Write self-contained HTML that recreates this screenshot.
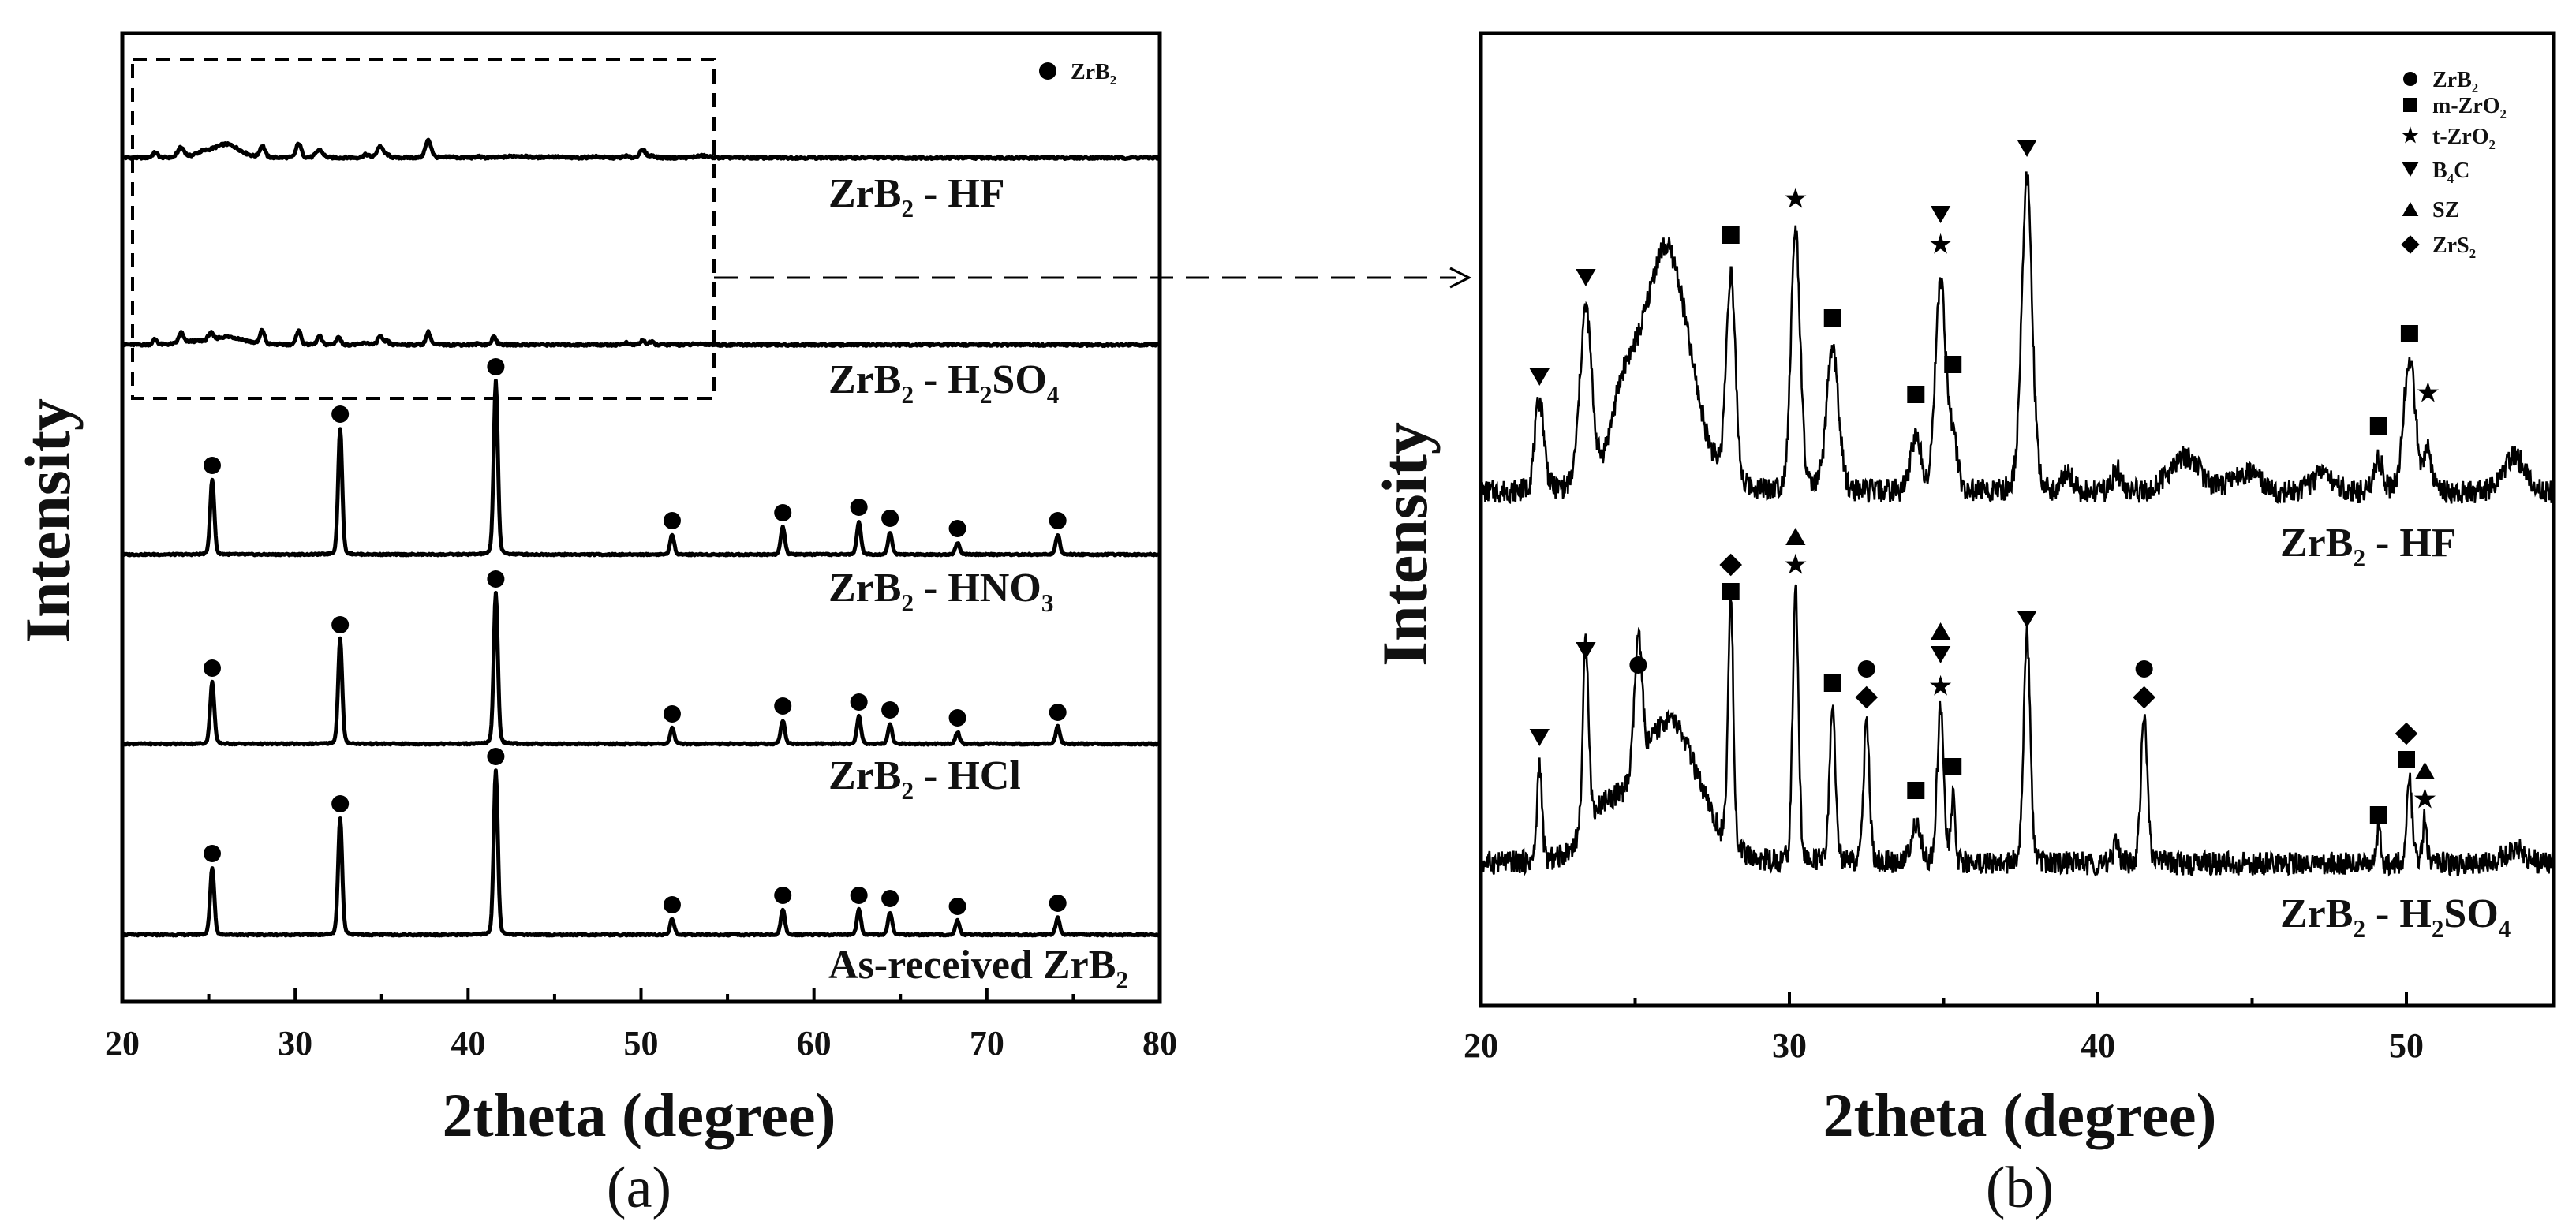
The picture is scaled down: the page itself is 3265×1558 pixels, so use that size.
<!DOCTYPE html>
<html><head><meta charset="utf-8"><style>
html,body{margin:0;padding:0;background:#fff;}
svg{display:block;}
text{font-family:"Liberation Serif",serif;fill:#111;}
</style></head><body>
<svg id="fig" width="3265" height="1558" viewBox="0 0 3265 1558" xmlns="http://www.w3.org/2000/svg">
<g id="panelA"></g>
<g id="panelB"></g>
</svg>
<script>
// ---------- DATA ----------
const zrb2Peaks = [25.2, 32.6, 41.6, 51.8, 58.2, 62.6, 64.4, 68.3, 74.1];
const hno3Heights = [95, 160, 220, 25, 35, 42, 28, 15, 25];
const hclHeights = [78, 133, 191, 20, 30, 35, 25, 15, 22];
const asRecHeights = [85, 148, 208, 20, 32, 32, 28, 18, 22];
const hfPos = [21.9, 23.4, 26.0, 24.6, 28.1, 30.2, 31.4, 34.1, 34.9, 35.3, 37.7, 39.0, 40.6, 42.8, 44.8, 47.3, 49.1, 50.1, 50.7, 53.5];
const hfHeights = [115, 225, 310, 90, 265, 330, 180, 70, 265, 60, 400, 25, 30, 45, 25, 25, 40, 170, 50, 45];
const hfWidths = [0.35, 0.45, 1.8, 1.0, 0.35, 0.35, 0.45, 0.4, 0.4, 0.35, 0.4, 0.4, 0.3, 1.2, 1.0, 0.8, 0.35, 0.45, 0.3, 0.9];
const hsPos = [21.9, 23.4, 25.1, 26.1, 24.0, 28.1, 30.2, 31.4, 32.5, 34.1, 34.9, 35.3, 37.7, 40.6, 41.5, 49.1, 50.1, 50.6, 53.5];
const hsHeights = [125, 240, 170, 180, 60, 320, 345, 200, 180, 45, 200, 85, 290, 25, 185, 45, 105, 60, 20];
const hsWidths = [0.18, 0.22, 0.3, 2.2, 1.5, 0.2, 0.22, 0.22, 0.22, 0.4, 0.25, 0.15, 0.25, 0.2, 0.25, 0.15, 0.2, 0.15, 0.8];
const hfMarkX = [21.9, 23.4, 28.1, 30.2, 31.4, 34.1, 34.9, 34.9, 35.3, 37.7, 49.1, 50.1, 50.7];
const hfMarkY = [147, 273, 327, 373, 222, 125, 315, 353, 163, 437, 85, 202, 127];
const hfMarkS = ['tri-down','tri-down','square','star','square','square','star','tri-down','square','tri-down','square','square','star'];
const hsMarkX = [21.9, 23.4, 25.1, 28.1, 28.1, 30.2, 30.2, 31.4, 32.5, 32.5, 34.1, 34.9, 34.9, 34.9, 35.3, 37.7, 41.5, 41.5, 49.1, 50.0, 50.0, 50.6, 50.6];
const hsMarkY = [160, 270, 252, 379, 345, 415, 379, 229, 247, 211, 93, 295, 265, 225, 123, 310, 247, 211, 62, 165, 132, 118, 82];
const hsMarkS = ['tri-down','tri-down','circle','diamond','square','tri-up','star','square','circle','diamond','square','tri-up','tri-down','star','square','tri-down','circle','diamond','square','diamond','square','tri-up','star'];
const tickA = [20, 30, 40, 50, 60, 70, 80];
const tickB = [20, 30, 40, 50];
const legendB = ['ZrB2', 'm-ZrO2', 't-ZrO2', 'B4C', 'SZ', 'ZrS2'];
const legendS = ['circle', 'square', 'star', 'tri-down', 'tri-up', 'diamond'];

// ---------- HELPERS ----------
const NS = 'http://www.w3.org/2000/svg';
function mk(tag, attrs, parent) {
  const e = document.createElementNS(NS, tag);
  for (const k in attrs) e.setAttribute(k, attrs[k]);
  parent.appendChild(e);
  return e;
}
function noise(i, seed) { const s = Math.sin(i * 12.9898 + seed * 78.233) * 43758.5453; return s - Math.floor(s) - 0.5; }
function profile(x, pos, hts, wid) {
  let y = 0;
  for (let k = 0; k < pos.length; k++) { const d = (x - pos[k]) / wid[k]; y += hts[k] * Math.exp(-2.77 * d * d) * 0.85 + hts[k] * 0.15 / (1 + 4 * d * d); }
  return y;
}
function marker(parent, s, cx, cy, r, name) {
  let e;
  if (s === 'circle') e = mk('circle', {cx: cx, cy: cy, r: r}, parent);
  else if (s === 'square') e = mk('rect', {x: cx - r, y: cy - r, width: 2 * r, height: 2 * r}, parent);
  else if (s === 'diamond') e = mk('polygon', {points: `${cx},${cy - r * 1.3} ${cx + r * 1.3},${cy} ${cx},${cy + r * 1.3} ${cx - r * 1.3},${cy}`}, parent);
  else if (s === 'tri-down') e = mk('polygon', {points: `${cx - r * 1.15},${cy - r} ${cx + r * 1.15},${cy - r} ${cx},${cy + r}`}, parent);
  else if (s === 'tri-up') e = mk('polygon', {points: `${cx - r * 1.15},${cy + r} ${cx + r * 1.15},${cy + r} ${cx},${cy - r}`}, parent);
  else {
    let p = [];
    for (let k = 0; k < 10; k++) { const a = -Math.PI / 2 + k * Math.PI / 5; const rr = k % 2 ? r * 0.5 : r * 1.3; p.push((cx + rr * Math.cos(a)).toFixed(1) + ',' + (cy + rr * Math.sin(a)).toFixed(1)); }
    e = mk('polygon', {points: p.join(' ')}, parent);
  }
  e.setAttribute('fill', '#000');
  
  
  return e;
}
function label(parent, x, y, size, parts, name, weight) {
  const t = mk('text', {x: x, y: y, 'font-size': size, 'font-weight': weight || 'bold'}, parent);
  
  
  parts.forEach(p => {
    const ts = mk('tspan', {}, t);
    if (p.sub) { ts.setAttribute('font-size', size * 0.6); ts.setAttribute('dy', size * 0.25); }
    else if (p.back) { ts.setAttribute('dy', -size * 0.25); }
    ts.textContent = p.t;
  });
  return t;
}

// ---------- PANEL A ----------
const A = document.getElementById('panelA');
const aL = 155, aR = 1470, aT = 42, aB = 1270;
const xa = d => aL + (d - 20) * (aR - aL) / 60;
const aBase = {hf: 200, hs: 437, hno3: 703, hcl: 943, asr: 1185};
function traceA(baseY, fn, seed, amp, name) {
  let pts = [];
  let i = 0;
  for (let d = 20; d <= 80.001; d += 0.05, i++) pts.push(xa(d).toFixed(1) + ',' + (baseY - fn(d) - noise(i, seed) * amp).toFixed(1));
  const p = mk('polyline', {points: pts.join(' '), fill: 'none', stroke: '#000', 'stroke-width': 5, 'stroke-linejoin': 'round'}, A);
  
  
}
const sharpW = zrb2Peaks.map(() => 0.28);
traceA(aBase.hf, d => profile(d, hfPos, hfHeights, hfWidths) * 0.055, 1, 3, 'trace-a-hf');
traceA(aBase.hs, d => profile(d, hsPos, hsHeights, hsWidths.map(w => Math.max(w, 0.3))) * 0.055, 2, 3, 'trace-a-h2so4');
[['hno3', hno3Heights], ['hcl', hclHeights], ['asr', asRecHeights]].forEach(([k, h], si) => {
  traceA(aBase[k], d => profile(d, zrb2Peaks, h, sharpW), 3 + si, 2, 'trace-a-' + k);
  zrb2Peaks.forEach((pk, j) => marker(A, 'circle', xa(pk), aBase[k] - h[j] - 18, 11, 'zrb2-marker-' + k));
});
const fa = mk('rect', {x: aL, y: aT, width: aR - aL, height: aB - aT, fill: 'none', stroke: '#000', 'stroke-width': 5}, A);
 
for (let d = 20; d <= 80; d += 5) {
  const tk = mk('line', {x1: xa(d), x2: xa(d), y1: aB, y2: aB - (d % 10 === 0 ? 18 : 10), stroke: '#000', 'stroke-width': 4}, A);
   
}
tickA.forEach(v => { const t = label(A, xa(v), 1337, 44, [{t: String(v)}], 'x-tick-label-a'); t.setAttribute('text-anchor', 'middle'); });
label(A, 810, 1440, 78, [{t: '2theta (degree)'}], 'x-axis-title-a').setAttribute('text-anchor', 'middle');
label(A, 810, 1530, 74, [{t: '(a)'}], 'panel-label-a', 'normal').setAttribute('text-anchor', 'middle');
const ya = label(A, 0, 0, 82, [{t: 'Intensity'}], 'y-axis-title-a');
ya.setAttribute('text-anchor', 'middle'); ya.setAttribute('transform', 'translate(88,660) rotate(-90)');
label(A, 1050, 262, 52, [{t: 'ZrB'}, {t: '2', sub: 1}, {t: ' - HF', back: 1}], 'label-a-hf');
label(A, 1050, 498, 52, [{t: 'ZrB'}, {t: '2', sub: 1}, {t: ' - H', back: 1}, {t: '2', sub: 1}, {t: 'SO', back: 1}, {t: '4', sub: 1}], 'label-a-h2so4');
label(A, 1050, 762, 52, [{t: 'ZrB'}, {t: '2', sub: 1}, {t: ' - HNO', back: 1}, {t: '3', sub: 1}], 'label-a-hno3');
label(A, 1050, 1000, 52, [{t: 'ZrB'}, {t: '2', sub: 1}, {t: ' - HCl', back: 1}], 'label-a-hcl');
label(A, 1050, 1240, 52, [{t: 'As-received ZrB'}, {t: '2', sub: 1}], 'label-a-as-received');
marker(A, 'circle', 1328, 90, 11, 'legend-a-zrb2-marker');
label(A, 1357, 100, 28, [{t: 'ZrB'}, {t: '2', sub: 1}], 'legend-a-zrb2');
const box = mk('rect', {x: 168, y: 75, width: 737, height: 430, fill: 'none', stroke: '#000', 'stroke-width': 4, 'stroke-dasharray': '18 12'}, A);
 
const arr = mk('line', {x1: 905, y1: 352, x2: 1845, y2: 352, stroke: '#000', 'stroke-width': 3, 'stroke-dasharray': '30 16'}, A);
 
const ah = mk('polyline', {points: '1838,340 1862,352 1838,364', fill: 'none', stroke: '#000', 'stroke-width': 3}, A);
 

// ---------- PANEL B ----------
const B = document.getElementById('panelB');
const bL = 1877, bR = 3237, bT = 42, bB = 1275;
const xb = d => bL + (d - 20) * 39.1;
const bBase = {hf: 625, hs: 1095};
function traceB(baseY, pos, hts, wid, seed, name) {
  let pts = [];
  let i = 0;
  const dMax = 20 + (bR - bL) / 39.1;
  for (let d = 20; d <= dMax; d += 0.02, i++) pts.push(xb(d).toFixed(1) + ',' + (baseY - profile(d, pos, hts, wid) - noise(i, seed) * 30).toFixed(1));
  const p = mk('polyline', {points: pts.join(' '), fill: 'none', stroke: '#000', 'stroke-width': 2.6}, B);
  
  
}
traceB(bBase.hf, hfPos, hfHeights, hfWidths, 7, 'trace-b-hf');
traceB(bBase.hs, hsPos, hsHeights, hsWidths, 9, 'trace-b-h2so4');
hfMarkX.forEach((x, j) => marker(B, hfMarkS[j], xb(x), bBase.hf - hfMarkY[j], 11, 'phase-marker-hf'));
hsMarkX.forEach((x, j) => marker(B, hsMarkS[j], xb(x), bBase.hs - hsMarkY[j], 11, 'phase-marker-h2so4'));
const fb = mk('rect', {x: bL, y: bT, width: bR - bL, height: bB - bT, fill: 'none', stroke: '#000', 'stroke-width': 5}, B);
 
for (let d = 20; d <= 54; d += 5) {
  const tk = mk('line', {x1: xb(d), x2: xb(d), y1: bB, y2: bB - (d % 10 === 0 ? 18 : 10), stroke: '#000', 'stroke-width': 4}, B);
   
}
tickB.forEach(v => { const t = label(B, xb(v), 1340, 44, [{t: String(v)}], 'x-tick-label-b'); t.setAttribute('text-anchor', 'middle'); });
label(B, 2560, 1440, 78, [{t: '2theta (degree)'}], 'x-axis-title-b').setAttribute('text-anchor', 'middle');
label(B, 2560, 1530, 74, [{t: '(b)'}], 'panel-label-b', 'normal').setAttribute('text-anchor', 'middle');
const yb = label(B, 0, 0, 82, [{t: 'Intensity'}], 'y-axis-title-b');
yb.setAttribute('text-anchor', 'middle'); yb.setAttribute('transform', 'translate(1808,690) rotate(-90)');
label(B, 2890, 705, 52, [{t: 'ZrB'}, {t: '2', sub: 1}, {t: ' - HF', back: 1}], 'label-b-hf');
label(B, 2890, 1175, 52, [{t: 'ZrB'}, {t: '2', sub: 1}, {t: ' - H', back: 1}, {t: '2', sub: 1}, {t: 'SO', back: 1}, {t: '4', sub: 1}], 'label-b-h2so4');
const legY = [100, 133, 172, 215, 265, 310];
const legParts = [
  [{t: 'ZrB'}, {t: '2', sub: 1}],
  [{t: 'm-ZrO'}, {t: '2', sub: 1}],
  [{t: 't-ZrO'}, {t: '2', sub: 1}],
  [{t: 'B'}, {t: '4', sub: 1}, {t: 'C', back: 1}],
  [{t: 'SZ'}],
  [{t: 'ZrS'}, {t: '2', sub: 1}]
];
legendB.forEach((nm, j) => {
  marker(B, legendS[j], 3055, legY[j], 9, 'legend-b-marker-' + nm.toLowerCase());
  label(B, 3083, legY[j] + 10, 28, legParts[j], 'legend-b-' + nm.toLowerCase());
});
</script>
</body></html>
